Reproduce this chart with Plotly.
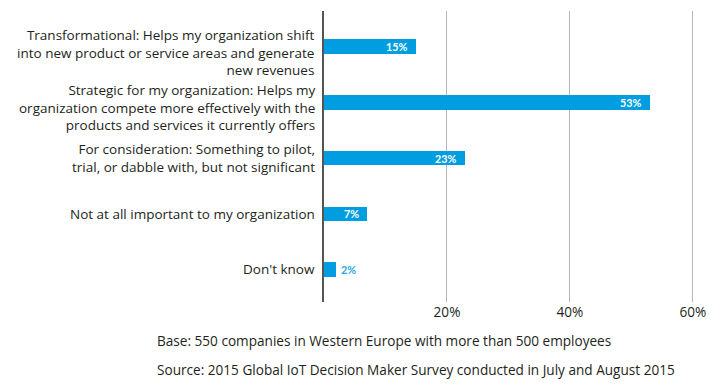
import plotly.graph_objects as go

categories = [
    "Transformational: Helps my organization shift<br>into new product or service areas and generate<br>new revenues",
    "Strategic for my organization: Helps my<br>organization compete more effectively with the<br>products and services it currently offers",
    "For consideration: Something to pilot,<br>trial, or dabble with, but not significant",
    "Not at all important to my organization",
    "Don't know",
]
values = [15, 53, 23, 7, 2]
value_labels = ["15%", "53%", "23%", "7%", "2%"]
tick_values = [20, 40, 60]
tick_labels = ["20%", "40%", "60%"]
footnotes = [
    "Base: 550 companies in Western Europe with more than 500 employees",
    "Source: 2015 Global IoT Decision Maker Survey conducted in July and August 2015",
]

FONT = "Open Sans"
VFONT = "Lato"
BLUE = "#009EE0"
TEXT = "#231F20"

positions = list(range(len(categories)))

fig = go.Figure()
fig.add_trace(go.Bar(
    x=values, y=positions, orientation="h",
    marker=dict(color=BLUE, line=dict(width=0)),
    width=0.26, hoverinfo="skip",
))

annotations = []
for pos, label in zip(positions, categories):
    n = label.count("<br>") + 1
    center_offset = 5.5 if n >= 3 else 0
    annotations.append(dict(
        x=0, xref="x", y=pos, yref="y", text=label, showarrow=False,
        align="right", xanchor="right", yanchor="middle",
        xshift=-7, yshift=-center_offset,
        font=dict(family=FONT, size=13.5, color=TEXT),
    ))

for pos, v, t in zip(positions, values, value_labels):
    inside = v >= 5
    annotations.append(dict(
        x=v, xref="x", y=pos, yref="y", text="<b>%s</b>" % t, showarrow=False,
        xanchor="right" if inside else "left", yanchor="middle",
        xshift=-6 if inside else 3, yshift=0,
        font=dict(family=VFONT, size=10.8, color="white" if inside else "#2AA7E1"),
    ))

for i, note in enumerate(footnotes):
    annotations.append(dict(
        x=0, xref="paper", y=0, yref="paper", text=note, showarrow=False,
        xanchor="left", yanchor="middle", xshift=-169, yshift=-38 - 29 * i,
        font=dict(family=FONT, size=13.6, color=TEXT),
    ))

fig.update_layout(
    width=720, height=378,
    margin=dict(l=316, r=8, t=3, b=84),
    paper_bgcolor="white", plot_bgcolor="white",
    showlegend=False,
    bargap=0,
    annotations=annotations,
    xaxis=dict(
        range=[0, 64.4], tickvals=tick_values, ticktext=tick_labels,
        showgrid=True, gridcolor="#B5B5B5", gridwidth=1.4,
        zeroline=False, showline=False, ticks="",
        tickfont=dict(family=FONT, size=13.6, color=TEXT),
        fixedrange=True,
    ),
    yaxis=dict(
        range=[4.584, -0.641], showticklabels=False, showgrid=False,
        zeroline=False, showline=True, linecolor="#555555", linewidth=1.5,
        ticks="", fixedrange=True,
    ),
)

fig.write_html("out.html")
